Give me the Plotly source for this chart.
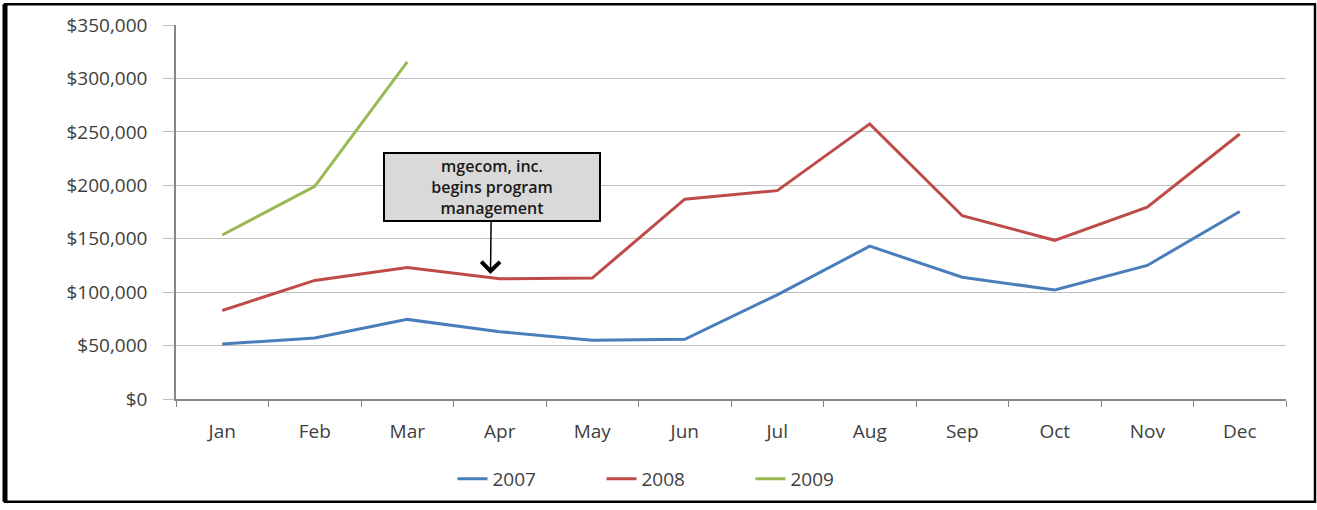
import plotly.graph_objects as go

months = ["Jan", "Feb", "Mar", "Apr", "May", "Jun", "Jul", "Aug", "Sep", "Oct", "Nov", "Dec"]
sales_2007 = [51500, 57000, 74500, 63000, 55000, 55800, 97500, 143000, 114000, 102000, 125000, 175500]
sales_2008 = [82800, 111000, 123000, 112500, 113200, 187000, 195000, 257500, 171500, 148500, 179500, 248000]
sales_2009 = [153500, 199000, 315500]
months_2009 = months[:3]
y_ticks = [0, 50000, 100000, 150000, 200000, 250000, 300000, 350000]

annot_text = "mgecom, inc.<br>begins program<br>management"
annot_x = 2.9
annot_y = 117000

W, H = 1317, 510
ML, MR, MT, MB = 176, 31, 25, 106
PW, PH = W - ML - MR, H - MT - MB


def px_to_paper_x(px):
    return (px - ML) / PW


def px_to_paper_y(py):
    return (H - MB - py) / PH


font_family = "Open Sans, Liberation Sans, sans-serif"
txt_color = "#404040"

fig = go.Figure()
fig.add_trace(go.Scatter(x=months, y=sales_2007, name="2007", mode="lines",
                         line=dict(color="#4A7EBB", width=3)))
fig.add_trace(go.Scatter(x=months, y=sales_2008, name="2008", mode="lines",
                         line=dict(color="#BE4B48", width=3)))
fig.add_trace(go.Scatter(x=months_2009, y=sales_2009, name="2009", mode="lines",
                         line=dict(color="#98B954", width=3)))

fig.add_annotation(
    x=annot_x, y=annot_y, xref="x", yref="y",
    text=annot_text, showarrow=True, arrowhead=4, arrowsize=2.4, arrowwidth=1.5,
    arrowcolor="#000000", ax=1, ay=-87, axref="pixel", ayref="pixel",
    bgcolor="#D9D9D9", bordercolor="#000000", borderwidth=2, borderpad=2,
    width=210, height=62,
    font=dict(family=font_family, size=16, color="#1a1a1a", weight=600),
)

# outer frame
fig.add_shape(type="rect", xref="paper", yref="paper",
              x0=px_to_paper_x(5), x1=px_to_paper_x(1315),
              y0=px_to_paper_y(508), y1=px_to_paper_y(4),
              line=dict(color="#000000", width=2.5))
fig.add_shape(type="line", xref="paper", yref="paper",
              x0=px_to_paper_x(5), x1=px_to_paper_x(5),
              y0=px_to_paper_y(508), y1=px_to_paper_y(4),
              line=dict(color="#000000", width=5))

fig.update_layout(
    width=W, height=H,
    margin=dict(l=ML, r=MR, t=MT, b=MB),
    paper_bgcolor="white", plot_bgcolor="white",
    font=dict(family=font_family, size=19, color=txt_color),
    showlegend=True,
    legend=dict(orientation="h", x=px_to_paper_x(676), y=px_to_paper_y(485),
                xanchor="center", yanchor="middle", font=dict(size=19, color=txt_color),
                entrywidth=104, entrywidthmode="pixels"),
    xaxis=dict(
        range=[-0.5, 11.5], showgrid=False, showline=True, linecolor="#868686", linewidth=1.5,
        ticks="outside", tickson="boundaries", ticklen=6, tickcolor="#868686",
        tickfont=dict(size=19, color=txt_color), ticklabelstandoff=14,
    ),
    yaxis=dict(
        range=[0, 350000], tickvals=y_ticks, tickformat="$,.0f",
        showgrid=True, gridcolor="#BFBFBF", gridwidth=1.2,
        showline=True, linecolor="#868686", linewidth=1.5,
        ticks="outside", ticklen=11, tickcolor="#BFBFBF",
        tickfont=dict(size=19, color=txt_color), ticklabelstandoff=12,
        zeroline=False,
    ),
)

fig.write_html("out.html", config={"displayModeBar": False},
               post_script="document.body.style.margin='0';document.body.style.overflow='hidden';")
